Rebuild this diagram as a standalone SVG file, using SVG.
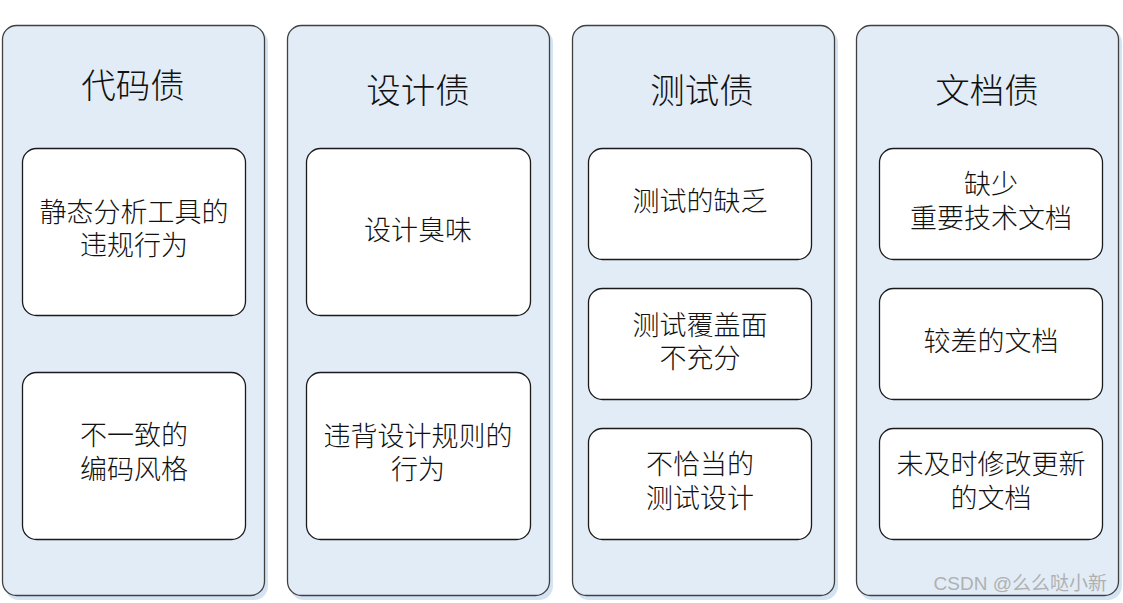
<svg xmlns="http://www.w3.org/2000/svg" width="1123" height="603" viewBox="0 0 1123 603">
<defs>
<style>
.col{fill:#e2ecf7;stroke:#404040;stroke-width:1.3}
.shadow{fill:#d4e3f3}
.box{fill:#ffffff;stroke:#1a1a1a;stroke-width:1.3}
.title{font-family:"Noto Sans CJK SC","Noto Sans CJK JP",sans-serif;font-size:34.5px;font-weight:300;fill:#111;text-anchor:middle}
.t{font-family:"Noto Sans CJK SC","Noto Sans CJK JP",sans-serif;font-size:27px;font-weight:300;fill:#111;text-anchor:middle}
.wm{font-family:"Liberation Sans","Noto Sans CJK SC",sans-serif;font-size:19px;fill:#b0b0b0;text-anchor:end}
</style>
</defs>
<rect width="1123" height="603" fill="#ffffff"/>
<g id="col1">
<rect class="shadow" x="5" y="29" width="263" height="571" rx="14"/>
<rect class="col" x="2.5" y="25.5" width="262" height="570" rx="14"/>
<text class="title" x="133" y="98">代码债</text>
</g>
<g id="col2">
<rect class="shadow" x="290" y="29" width="263" height="571" rx="14"/>
<rect class="col" x="287.5" y="25.5" width="262" height="570" rx="14"/>
<text class="title" x="418" y="103">设计债</text>
</g>
<g id="col3">
<rect class="shadow" x="575" y="29" width="263" height="571" rx="14"/>
<rect class="col" x="572.5" y="25.5" width="262" height="570" rx="14"/>
<text class="title" x="702" y="103">测试债</text>
</g>
<g id="col4">
<rect class="shadow" x="859" y="29" width="263" height="571" rx="14"/>
<rect class="col" x="856.5" y="25.5" width="262" height="570" rx="14"/>
<text class="title" x="987" y="103">文档债</text>
</g>
<g id="b1a"><rect class="box" x="22.5" y="148.5" width="223" height="167" rx="14"/><text class="t" x="134" y="222">静态分析工具的</text><text class="t" x="134" y="255">违规行为</text></g>
<g id="b1b"><rect class="box" x="22.5" y="372.5" width="223" height="167" rx="14"/><text class="t" x="134" y="445">不一致的</text><text class="t" x="134" y="479">编码风格</text></g>
<g id="b2a"><rect class="box" x="306.5" y="148.5" width="224" height="167" rx="14"/><text class="t" x="418" y="240">设计臭味</text></g>
<g id="b2b"><rect class="box" x="306.5" y="372.5" width="224" height="167" rx="14"/><text class="t" x="418" y="446">违背设计规则的</text><text class="t" x="418" y="479">行为</text></g>
<g id="b3a"><rect class="box" x="588.5" y="148.5" width="223" height="111" rx="14"/><text class="t" x="700" y="211">测试的缺乏</text></g>
<g id="b3b"><rect class="box" x="588.5" y="288.5" width="223" height="111" rx="14"/><text class="t" x="700" y="335">测试覆盖面</text><text class="t" x="700" y="368">不充分</text></g>
<g id="b3c"><rect class="box" x="588.5" y="428.5" width="223" height="111" rx="14"/><text class="t" x="700" y="474">不恰当的</text><text class="t" x="700" y="508">测试设计</text></g>
<g id="b4a"><rect class="box" x="879.5" y="148.5" width="223" height="111" rx="14"/><text class="t" x="991" y="194">缺少</text><text class="t" x="991" y="228">重要技术文档</text></g>
<g id="b4b"><rect class="box" x="879.5" y="288.5" width="223" height="111" rx="14"/><text class="t" x="991" y="351">较差的文档</text></g>
<g id="b4c"><rect class="box" x="879.5" y="428.5" width="223" height="111" rx="14"/><text class="t" x="991" y="474">未及时修改更新</text><text class="t" x="991" y="508">的文档</text></g>
<g id="connectors"></g>
<text class="wm" x="1107" y="590">CSDN @么么哒小新</text>
</svg>
